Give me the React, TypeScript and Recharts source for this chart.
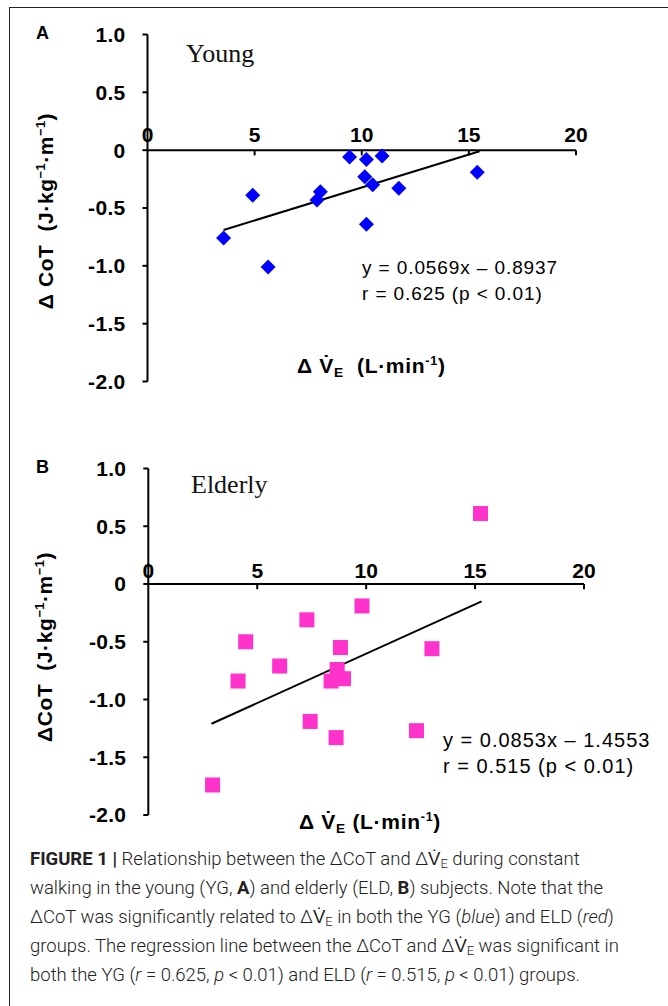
import React from 'react';
import { ScatterChart, Scatter, XAxis, YAxis, ReferenceLine, ReferenceDot } from 'recharts';

// ---------- data ----------
const xTicks = [0, 5, 10, 15, 20];
const xTickMarks = [5, 10, 15, 20];
const yTicks = [-2, -1.5, -1, -0.5, 0, 0.5, 1];

const youngX = [3.55, 4.91, 5.63, 7.91, 8.07, 9.43, 10.22, 10.95, 10.14, 10.51, 10.22, 11.73, 15.39];
const youngY = [-0.76, -0.39, -1.01, -0.43, -0.36, -0.06, -0.08, -0.05, -0.23, -0.3, -0.64, -0.33, -0.19];

const elderlyX = [2.95, 4.12, 4.47, 6.03, 7.28, 7.43, 8.39, 8.67, 8.96, 8.82, 8.62, 9.81, 12.31, 13.02, 15.25];
const elderlyY = [-1.74, -0.84, -0.5, -0.71, -0.31, -1.19, -0.84, -0.74, -0.82, -0.55, -1.33, -0.19, -1.27, -0.56, 0.61];

// regression line end points (from the printed equations)
const youngFitX = [3.55, 15.5];
const youngFitY = [-0.69, -0.01];
const elderlyFitX = [2.9, 15.3];
const elderlyFitY = [-1.21, -0.15];

const youngData = youngX.map((x, i) => ({ x, y: youngY[i] }));
const elderlyData = elderlyX.map((x, i) => ({ x, y: elderlyY[i] }));

const SANS = '"Liberation Sans", Arial, sans-serif';
const SERIF = '"Liberation Serif", "Times New Roman", serif';

const Diamond = (props: any) => {
  const { cx, cy } = props;
  const r = 7.5;
  return <polygon points={`${cx},${cy - r} ${cx + r},${cy} ${cx},${cy + r} ${cx - r},${cy}`} fill="#0000FF" />;
};

const Square = (props: any) => {
  const { cx, cy } = props;
  const s = 15;
  return <rect x={cx - s / 2} y={cy - s / 2} width={s} height={s} fill="#FF33CC" />;
};

type PanelProps = {
  data: { x: number; y: number }[];
  fitX: number[];
  fitY: number[];
  shape: any;
  top: number;
  margin: { top: number; right: number; bottom: number; left: number };
  labelOffset: number;
};

const Panel = ({ data, fitX, fitY, shape, top, margin, labelOffset }: PanelProps) => (
  <div style={{ position: 'absolute', left: 0, top, width: 668, height: 420 }}>
    <ScatterChart width={668} height={420} margin={margin}>
      <XAxis type="number" dataKey="x" domain={[0, 20]} ticks={xTicks} hide />
      <YAxis
        type="number"
        dataKey="y"
        domain={[-2, 1]}
        ticks={yTicks}
        interval={0}
        width={60}
        tickSize={5}
        tickMargin={17}
        axisLine={{ stroke: '#000', strokeWidth: 2 }}
        tickLine={{ stroke: '#000', strokeWidth: 2 }}
        tick={{ fill: '#000', fontSize: 21, fontWeight: 'bold', fontFamily: SANS, letterSpacing: 0.3 }}
        tickFormatter={(v: number) => (v === 0 ? '0' : v.toFixed(1))}
      />
      <ReferenceLine y={0} stroke="#000" strokeWidth={2} />
      {xTickMarks.map((t) => (
        <ReferenceLine
          key={'tm' + t}
          segment={[{ x: t, y: 0 }, { x: t, y: -0.045 }]}
          stroke="#000"
          strokeWidth={2}
        />
      ))}
      {xTicks.map((t) => (
        <ReferenceDot
          key={'tl' + t}
          x={t}
          y={0}
          r={0}
          fill="none"
          stroke="none"
          label={{
            value: String(t),
            position: 'top',
            offset: labelOffset,
            fill: '#000',
            fontSize: 21,
            fontWeight: 'bold',
            fontFamily: SANS,
          }}
        />
      ))}
      <ReferenceLine
        segment={[{ x: fitX[0], y: fitY[0] }, { x: fitX[1], y: fitY[1] }]}
        stroke="#000"
        strokeWidth={2}
      />
      <Scatter data={data} shape={shape} isAnimationActive={false} />
    </ScatterChart>
  </div>
);

const abs = (style: React.CSSProperties): React.CSSProperties => ({ position: 'absolute', whiteSpace: 'nowrap', ...style });
const sup: React.CSSProperties = { fontSize: '0.6em', verticalAlign: '0.6em', lineHeight: 0 };
const sub: React.CSSProperties = { fontSize: '0.65em', verticalAlign: '-0.3em', lineHeight: 0 };

const YTitle = ({ cx, cy, delta }: { cx: number; cy: number; delta: string }) => (
  <div
    style={abs({
      left: cx,
      top: cy,
      transform: 'translate(-50%, -50%) rotate(-90deg)',
      fontFamily: SANS,
      fontWeight: 'bold',
      fontSize: 21,
      letterSpacing: 0.6,
      color: '#000',
      lineHeight: '24px',
    })}
  >
    {delta}
    {'\u00a0\u00a0('}J·kg<span style={sup}>−1</span>·m<span style={sup}>−1</span>)
  </div>
);

const XTitle = ({ left, top, gap }: { left: number; top: number; gap: string }) => (
  <div style={abs({ left, top, fontFamily: SANS, fontWeight: 'bold', fontSize: 21, letterSpacing: 0.7, color: '#000', lineHeight: '24px' })}>
    Δ V{'\u0307'}
    <span style={sub}>E</span>
    {gap + '('}L·min<span style={sup}>-1</span>)
  </div>
);

const Equation = ({ left, top, l1, l2, size, spacing }: { left: number; top: number; l1: string; l2: string; size: number; spacing: number }) => (
  <div style={abs({ left, top, fontFamily: SANS, fontSize: size, color: '#000', lineHeight: '26px', letterSpacing: spacing })}>
    <div>{l1}</div>
    <div>{l2}</div>
  </div>
);

const VE = () => (
  <span>
    ΔV{'\u0307'}
    <span style={{ fontSize: '0.7em', verticalAlign: '-0.25em', lineHeight: 0 }}>E</span>
  </span>
);

const captionLine: React.CSSProperties = { height: 29, lineHeight: '29px' };

export default function App() {
  return (
    <div style={{ position: 'absolute', left: 0, top: 0, width: 668, height: 1006, overflow: 'hidden', background: '#fff' }}>
      <div style={{ position: 'absolute', left: 9, top: 7, width: 800, height: 1200, borderLeft: '1px solid #222', borderTop: '1px solid #222' }} />

      <Panel
        data={youngData}
        fitX={youngFitX}
        fitY={youngFitY}
        shape={Diamond}
        top={0}
        margin={{ top: 34.5, right: 92, bottom: 38.5, left: 87.5 }}
        labelOffset={8}
      />
      <Panel
        data={elderlyData}
        fitX={elderlyFitX}
        fitY={elderlyFitY}
        shape={Square}
        top={420}
        margin={{ top: 48.5, right: 84, bottom: 25, left: 88.3 }}
        labelOffset={6}
      />

      <div style={abs({ left: 36, top: 22, fontFamily: SANS, fontWeight: 'bold', fontSize: 18, lineHeight: '22px' })}>A</div>
      <div style={abs({ left: 36, top: 456, fontFamily: SANS, fontWeight: 'bold', fontSize: 18, lineHeight: '22px' })}>B</div>

      <div style={abs({ left: 186, top: 39, fontFamily: SERIF, fontSize: 26, lineHeight: '30px', color: '#111' })}>Young</div>
      <div style={abs({ left: 191, top: 470, fontFamily: SERIF, fontSize: 26, lineHeight: '30px', color: '#111' })}>Elderly</div>

      <YTitle cx={45.5} cy={211} delta={'Δ CoT'} />
      <YTitle cx={45} cy={647} delta={'ΔCoT'} />

      <XTitle left={297} top={354} gap={'\u00a0\u00a0'} />
      <XTitle left={299} top={810} gap={' '} />

      <Equation left={362} top={255} l1="y = 0.0569x – 0.8937" l2="r = 0.625 (p < 0.01)" size={19} spacing={0.9} />
      <Equation left={443} top={727} l1="y = 0.0853x – 1.4553" l2="r = 0.515 (p < 0.01)" size={20} spacing={1.0} />

      <div style={abs({ left: 30, top: 845, fontFamily: 'Roboto, sans-serif', fontSize: 18.5, color: '#222', fontWeight: 300 })}>
        <div style={captionLine}>
          <b style={{ fontWeight: 700 }}>FIGURE 1 |</b> Relationship between the ΔCoT and <VE /> during constant
        </div>
        <div style={captionLine}>
          walking in the young (YG, <b style={{ fontWeight: 700 }}>A</b>) and elderly (ELD, <b style={{ fontWeight: 700 }}>B</b>) subjects. Note that the
        </div>
        <div style={captionLine}>
          ΔCoT was significantly related to <VE /> in both the YG (<i>blue</i>) and ELD (<i>red</i>)
        </div>
        <div style={captionLine}>
          groups. The regression line between the ΔCoT and <VE /> was significant in
        </div>
        <div style={captionLine}>
          both the YG (<i>r</i> = 0.625, <i>p</i> &lt; 0.01) and ELD (<i>r</i> = 0.515, <i>p</i> &lt; 0.01) groups.
        </div>
      </div>
    </div>
  );
}
